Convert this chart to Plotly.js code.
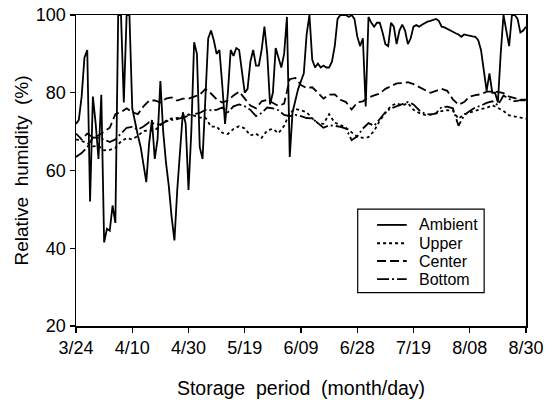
<!DOCTYPE html>
<html>
<head>
<meta charset="utf-8">
<script src="https://cdn.plot.ly/plotly-3.0.1.min.js"></script>
<style>
  html, body { margin: 0; padding: 0; background: #fff; }
  #chart { width: 559px; height: 400px; }
</style>
</head>
<body>
<div id="chart"></div>
<script>
// Sample index along storage period (0 = 3/24, 160 = 8/30)
const tickIndex = [0, 20, 40, 60, 80, 100, 120, 140, 160];
const tickLabels = ["3/24", "4/10", "4/30", "5/19", "6/09", "6/28", "7/19", "8/08", "8/30"];
const seriesNames = ["Ambient", "Upper", "Center", "Bottom"];

// Ambient relative humidity (%)
const ambientX = [0,1,2,3,4,5,6,7,8,9,10,11,12,13,14,15,16,17,18,19,20,21,22,23,24,25,26,27,28,29,30,31,32,33,34,35,36,37,38,39,40,41,42,43,44,45,46,47,48,49,50,51,52,53,54,55,56,57,58,59,60,61,62,63,64,65,66,67,68,69,70,71,72,73,74,75,76,77,78,79,80,81,82,83,84,85,86,87,88,89,90,91,92,93,94,95,96,97,98,99,100,101,102,103,104,105,106,107,108,109,110,111,112,113,114,115,116,117,118,119,120,121,122,123,124,125,126,127,128,129,130,131,132,133,134,135,136,137,138,139,140,141,142,143,144,145,146,147,148,149,150,151,152,153,154,155,156,157,158,159,160];
const ambientY = [72,73,79,89,91,52,79,72,63,79.5,41.5,45,44.5,51,46.5,100,100,77.5,100,100,76,72,69,66,62,57,67,73,63,68,83,70,62,56,48,42,55,66,75,72,55,70,93,90,66,63,80,94,96,93.5,90,91,82,72,80,91,89.5,91.5,91,86,80,81,88,91,87,87,91,97,90,77,80,91.5,89,86.5,90,99.5,63.5,75,78,81,83,85,95,100,88.5,86.5,87.5,86.5,87,86.5,86.5,88,92,99,100,100,100,99.5,100,99,94.5,92,94,76.5,99.5,98,97,98,98,95.5,92.5,92,98,97,92.5,96,97.5,96,92.5,94,97,97.4,97,97.5,98,98.3,98.5,98.7,99,98.5,97,96.8,96.5,96,95.7,95.3,95,94.4,95,94.8,94.6,94.5,94.4,93.5,91,86,80.5,85,80,80,77.5,90,100,96,92,100,100,99,95.5,96,97];

// Upper, Center and Bottom positions inside storage (%), every second sample
const pileX = [0,2,4,6,8,10,12,14,16,18,20,22,24,26,28,30,32,34,36,38,40,42,44,46,48,50,52,54,56,58,60,62,64,66,68,70,72,74,76,78,80,82,84,86,88,90,92,94,96,98,100,102,104,106,108,110,112,114,116,118,120,122,124,126,128,130,132,134,136,138,140,142,144,146,148,150,152,154,156,158,160];
const upperY = [68,67.6,67,66.2,66.3,65.2,65.3,65.8,67.5,68.3,68,68.9,70.2,70.3,70.3,71.7,72.8,73.4,73.5,74,74.4,74.1,73.6,73.6,71.3,71.3,69.7,69.4,70.7,71.4,70.8,69,69.5,68.4,70.3,70.7,69.6,71.5,74.8,75.8,75.5,75,73.4,72.2,72,74.5,72.3,71.7,71,69.8,68.7,68.4,68.6,70.2,72.8,74.8,76.6,77.3,76.7,77.3,75.6,74.8,74.3,74.4,74.7,75.3,75.5,75.4,73.3,74.5,75,75.3,75.8,76.1,76.8,76.1,75.3,74.2,73.9,73.6,73.3];
const centerY = [69.5,68,69.5,68.5,69,70,71,74.5,75,76,75,74.5,76.5,78,78,77.5,78.5,78.8,78,78.5,78.5,79,79.5,81,79.8,78.3,77.5,78,79.3,80.3,78.6,76.7,76,77.8,78.2,77.3,76.6,77.2,83.5,83.8,82,81.2,81.4,80,78.5,79.5,79.6,78.2,77.6,75.7,77.5,77.8,78.8,79.3,79.8,81,81.8,82.4,82.5,82.7,82.2,81.4,80.8,80,80.5,81,80.5,78.3,76.9,77.6,79,79.4,79.6,80.3,80.3,80.2,79.9,79,78.6,78.2,78.2];
const bottomY = [63.5,64.5,66,68.5,68.3,68,67.3,68,69.5,71,71.2,70.5,71.3,72.4,72,71.8,72.6,73,73.2,73.7,74.2,74.5,74.8,75.6,75.5,75.6,76.2,75,76.5,77,76.5,75.6,74,74.8,76.2,76,75.5,74.3,74,74.3,74,73.5,73.4,72.2,71,71.6,71.5,71.2,70.8,67.8,68.8,70.8,72.2,71.5,73.3,75,76,76.6,77.2,77.6,77,75.5,74.6,74.4,74.7,76.3,76.4,76,71.5,74.2,75.3,76.2,76.7,77.4,77.8,76.8,79.3,78.4,77.8,78.1,78];

const font = "Arial, 'Liberation Sans', Helvetica, sans-serif";
const dashes = ["solid", "dot", "9px,4px", "12px,3px,2px,3px"];
const lineW = 1.8;

const seriesX = [ambientX, pileX, pileX, pileX];
const seriesY = [ambientY, upperY, centerY, bottomY];

const traces = seriesNames.map((name, i) => ({
  x: seriesX[i], y: seriesY[i], name: name, mode: "lines",
  line: {color: "#000", width: lineW, dash: dashes[i]},
  showlegend: false
}));

// Boxed legend in the lower right of the plot area
const legBox = {x0: 0.626, x1: 0.907, y0: 0.107, y1: 0.376};
const legRows = [0.325, 0.266, 0.209, 0.151];
const shapes = [{
  type: "rect", xref: "paper", yref: "paper",
  x0: legBox.x0, x1: legBox.x1, y0: legBox.y0, y1: legBox.y1,
  line: {color: "#000", width: 1.2}, fillcolor: "#fff", layer: "above"
}];
const annotations = [];
seriesNames.forEach((name, i) => {
  shapes.push({
    type: "line", xref: "paper", yref: "paper",
    x0: 0.669, x1: 0.735, y0: legRows[i], y1: legRows[i],
    line: {color: "#000", width: lineW, dash: dashes[i]}, layer: "above"
  });
  annotations.push({
    xref: "paper", yref: "paper", x: 0.757, y: legRows[i],
    xanchor: "left", yanchor: "middle", showarrow: false, text: name,
    font: {family: font, size: 16, color: "#000"}
  });
});

const layout = {
  width: 559, height: 400,
  margin: {l: 76, r: 33, t: 15, b: 74},
  paper_bgcolor: "#fff", plot_bgcolor: "#fff",
  font: {family: font, color: "#000", size: 18},
  showlegend: false,
  shapes: shapes,
  annotations: annotations,
  xaxis: {
    range: [0, 160], tickmode: "array", tickvals: tickIndex, ticktext: tickLabels,
    showline: true, mirror: true, linecolor: "#000", linewidth: 1.5,
    ticks: "outside", ticklen: 5, tickwidth: 1.3, tickcolor: "#000",
    showgrid: false, zeroline: false,
    tickfont: {family: font, size: 18, color: "#000"},
    title: {text: "Storage  period  (month/day)", font: {family: font, size: 19.5, color: "#000"}, standoff: 24}
  },
  yaxis: {
    range: [20, 100], tickmode: "array", tickvals: [20, 40, 60, 80, 100],
    showline: true, mirror: true, linecolor: "#000", linewidth: 1.5,
    ticks: "outside", ticklen: 5, tickwidth: 1.3, tickcolor: "#000",
    showgrid: false, zeroline: false,
    tickfont: {family: font, size: 18, color: "#000"},
    title: {text: "Relative  humidity  (%)", font: {family: font, size: 19, color: "#000"}, standoff: 2}
  }
};

Plotly.newPlot("chart", traces, layout, {displayModeBar: false, staticPlot: true});
</script>
</body>
</html>
